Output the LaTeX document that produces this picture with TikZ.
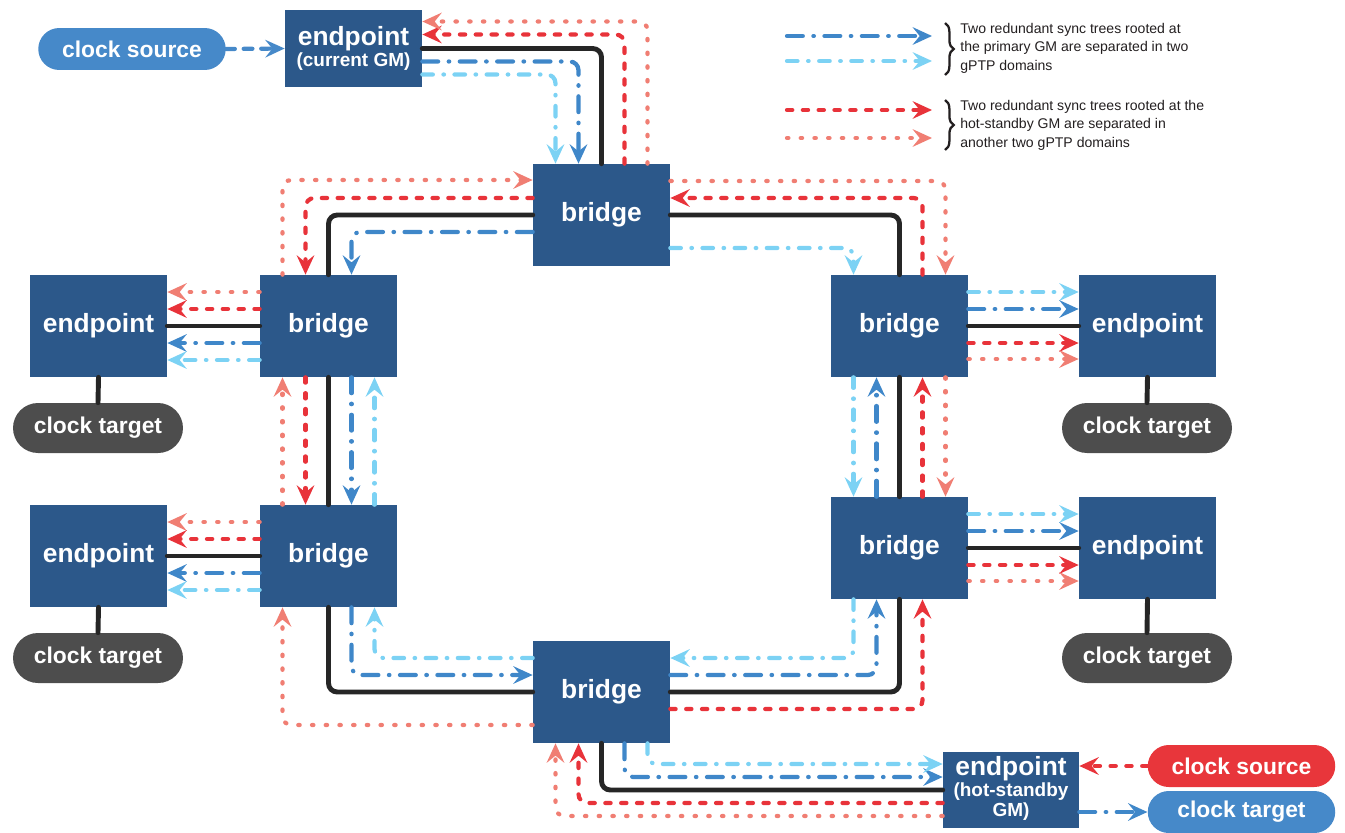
\documentclass[tikz,border=0pt]{standalone}
\usepackage{fontspec}
\setmainfont{Liberation Sans}
\usepackage{xcolor}
\usepackage{tikz}
\usetikzlibrary{arrows.meta,calc,decorations.pathreplacing}
\definecolor{boxblue}{HTML}{2C588A}
\definecolor{pillblue}{HTML}{4689C9}
\definecolor{pillred}{HTML}{E8363B}
\definecolor{pillgray}{HTML}{4D4D4D}
\definecolor{linkblack}{HTML}{262626}
\definecolor{syncA}{HTML}{3F87C9}
\definecolor{syncB}{HTML}{7CD2F4}
\definecolor{syncC}{HTML}{E8333A}
\definecolor{syncD}{HTML}{F07E73}
\definecolor{legtext}{HTML}{231F20}
\newcommand{\subfnt}{\fontsize{10.8}{10.5}\selectfont}
\tikzset{
  netnode/.style = {rectangle, fill=boxblue, text=white, inner sep=0pt,
    align=center, font=\bfseries\fontsize{15}{15}\selectfont,
    minimum width=2.74cm, minimum height=2.04cm},% bridge ou endpoint
  gmnode/.style = {netnode, minimum height=1.54cm},% endpoint qui porte le GM
  clk_t/.style = {rectangle, rounded corners=0.5cm, fill=pillgray, text=white,
    font=\bfseries\fontsize{13}{13}\selectfont, inner sep=0pt,
    minimum width=3.4cm, minimum height=1cm},% clock target
  clk_s/.style = {clk_t, fill=pillblue, rounded corners=0.42cm,
    minimum width=3.75cm, minimum height=0.84cm},% clock source
  link/.style = {draw=linkblack, line width=2.8pt, line cap=round,
    rounded corners=5pt},% lien physique
  sync/.style = {->, line width=2.4pt, line cap=round, rounded corners=5pt},
  sync_a/.style = {sync, draw=syncA,
    dash pattern=on 9pt off 6pt on 0.3pt off 6pt},% GM primaire, domaine 1
  sync_b/.style = {sync, draw=syncB,
    dash pattern=on 6pt off 6pt on 0.3pt off 6pt},% GM primaire, domaine 2
  sync_c/.style = {sync, draw=syncC,
    dash pattern=on 3pt off 6pt},% GM hot-standby, domaine 3
  sync_d/.style = {sync, draw=syncD,
    dash pattern=on 0.8pt off 7pt},% GM hot-standby, domaine 4
  legtxt/.style = {anchor=north west, inner sep=0pt, align=left, text=legtext,
    font=\fontsize{8}{10.5}\selectfont},
  lgbrace/.style = {draw=legtext, line width=1.3pt,
    decorate, decoration={brace, amplitude=5pt}}
}

\begin{document}
\begin{tikzpicture}[x=0.02cm, y=-0.02cm,
  >={Stealth[length=11pt 0 0, width=10pt 0, inset=4pt 0]}]
\useasboundingbox (0,0) rectangle (1345,832);

% noeuds
\node [clk_s] (src) at (132,49) {clock source};
\node [gmnode] (gm) at (353.5,48.5) {endpoint\\[-3pt]\subfnt(current GM)};
\node [netnode] (tb) at (601.5,215) {bridge};
\node [netnode] (lb1) at (328.5,326) {bridge};
\node [netnode] (lb2) at (328.5,556) {bridge};
\node [netnode] (rb1) at (899.5,326) {bridge};
\node [netnode] (rb2) at (899.5,548) {bridge};
\node [netnode] (bb) at (601.5,692) {bridge};
\node [netnode] (le1) at (98.5,326) {endpoint};
\node [netnode] (le2) at (98.5,556) {endpoint};
\node [netnode] (re1) at (1147.5,326) {endpoint};
\node [netnode] (re2) at (1147.5,548) {endpoint};
\node [clk_t] (lc1) at (98,428) {clock target};
\node [clk_t] (lc2) at (98,658) {clock target};
\node [clk_t] (rc1) at (1147,428) {clock target};
\node [clk_t] (rc2) at (1147,658) {clock target};
\node [gmnode, minimum width=2.72cm, minimum height=1.52cm] (hs) at (1011,790)
  {\mbox{}\\[-6pt]endpoint\\[-3pt]\subfnt(hot-standby\\[-4pt]\subfnt GM)};
\node [clk_s, fill=pillred] (rsrc) at (1241.5,766) {clock source};
\node [clk_s] (rtgt) at (1241.5,812) {clock target};

% liens physiques
\draw [link] (gm.east) -| (tb.north);
\draw [link] (tb.west) -| (lb1.north);
\draw [link] (tb.east) -| (rb1.north);
\draw [link] (lb1.south) -- (lb2.north);
\draw [link] (lb2.south) |- (bb.west);
\draw [link] (rb1.south) -- (rb2.north);
\draw [link] (rb2.south) |- (bb.east);
\draw [link] (bb.south) |- (hs.west);
\draw [link] (lb1.west) -- (le1.east);
\draw [link] (lb2.west) -- (le2.east);
\draw [link] (rb1.east) -- (re1.west);
\draw [link] (rb2.east) -- (re2.west);
\draw [link] (le1.south) -- (lc1.north);
\draw [link] (le2.south) -- (lc2.north);
\draw [link] (re1.south) -- (rc1.north);
\draw [link] (re2.south) -- (rc2.north);

% sources et cibles d'horloge
\draw [sync, draw=pillblue, dash pattern=on 5pt off 5pt] (src.east) -- (gm.west);
\draw [sync_c] (rsrc.west) -- (rsrc.west -| hs.east);
\draw [sync_a] (rtgt.west -| hs.east) -- (rtgt.west);

% GM primaire -> bridge du haut
\draw [sync_a] ($(gm.east)+(0,13)$) -| ($(tb.north)+(-23,0)$);
\draw [sync_b] ($(gm.east)+(0,26)$) -| ($(tb.north)+(-46,0)$);
\draw [sync_c] ($(tb.north)+(23,0)$) |- ($(gm.east)+(0,-14)$);
\draw [sync_d] ($(tb.north)+(46,0)$) |- ($(gm.east)+(0,-27)$);

% bridge du haut <-> bridges gauche et droite
\draw [sync_d] ($(lb1.north)+(-46,0)$) |- ($(tb.west)+(0,-35)$);
\draw [sync_c] ($(tb.west)+(0,-17)$) -| ($(lb1.north)+(-23,0)$);
\draw [sync_a] ($(tb.west)+(0,17)$) -| ($(lb1.north)+(23,0)$);
\draw [sync_d] ($(tb.east)+(0,-34)$) -| ($(rb1.north)+(46,0)$);
\draw [sync_c] ($(rb1.north)+(23,0)$) |- ($(tb.east)+(0,-17)$);
\draw [sync_b] ($(tb.east)+(0,33)$) -| ($(rb1.north)+(-46,0)$);

% cote gauche
\draw [sync_d] ($(lb2.north)+(-46,0)$) -- ($(lb1.south)+(-46,0)$);
\draw [sync_c] ($(lb1.south)+(-23,0)$) -- ($(lb2.north)+(-23,0)$);
\draw [sync_a] ($(lb1.south)+(23,0)$) -- ($(lb2.north)+(23,0)$);
\draw [sync_b] ($(lb2.north)+(46,0)$) -- ($(lb1.south)+(46,0)$);
\draw [sync_d] ($(lb1.west)+(0,-34)$) -- ($(le1.east)+(0,-34)$);
\draw [sync_c] ($(lb1.west)+(0,-17)$) -- ($(le1.east)+(0,-17)$);
\draw [sync_a] ($(lb1.west)+(0,17)$) -- ($(le1.east)+(0,17)$);
\draw [sync_b] ($(lb1.west)+(0,34)$) -- ($(le1.east)+(0,34)$);
\draw [sync_d] ($(lb2.west)+(0,-34)$) -- ($(le2.east)+(0,-34)$);
\draw [sync_c] ($(lb2.west)+(0,-17)$) -- ($(le2.east)+(0,-17)$);
\draw [sync_a] ($(lb2.west)+(0,17)$) -- ($(le2.east)+(0,17)$);
\draw [sync_b] ($(lb2.west)+(0,34)$) -- ($(le2.east)+(0,34)$);

% bridge du bas <-> bridges gauche et droite
\draw [sync_d] ($(bb.west)+(0,33)$) -| ($(lb2.south)+(-46,0)$);
\draw [sync_a] ($(lb2.south)+(23,0)$) |- ($(bb.west)+(0,-17)$);
\draw [sync_b] ($(bb.west)+(0,-34)$) -| ($(lb2.south)+(46,0)$);
\draw [sync_b] ($(rb2.south)+(-46,0)$) |- ($(bb.east)+(0,-34)$);
\draw [sync_a] ($(bb.east)+(0,-17)$) -| ($(rb2.south)+(-23,0)$);
\draw [sync_c] ($(bb.east)+(0,17)$) -| ($(rb2.south)+(23,0)$);

% cote droit
\draw [sync_b] ($(rb1.south)+(-46,0)$) -- ($(rb2.north)+(-46,0)$);
\draw [sync_a] ($(rb2.north)+(-23,0)$) -- ($(rb1.south)+(-23,0)$);
\draw [sync_c] ($(rb2.north)+(23,0)$) -- ($(rb1.south)+(23,0)$);
\draw [sync_d] ($(rb1.south)+(46,0)$) -- ($(rb2.north)+(46,0)$);
\draw [sync_b] ($(rb1.east)+(0,-34)$) -- ($(re1.west)+(0,-34)$);
\draw [sync_a] ($(rb1.east)+(0,-17)$) -- ($(re1.west)+(0,-17)$);
\draw [sync_c] ($(rb1.east)+(0,17)$) -- ($(re1.west)+(0,17)$);
\draw [sync_d] ($(rb1.east)+(0,33)$) -- ($(re1.west)+(0,33)$);
\draw [sync_b] ($(rb2.east)+(0,-34)$) -- ($(re2.west)+(0,-34)$);
\draw [sync_a] ($(rb2.east)+(0,-17)$) -- ($(re2.west)+(0,-17)$);
\draw [sync_c] ($(rb2.east)+(0,17)$) -- ($(re2.west)+(0,17)$);
\draw [sync_d] ($(rb2.east)+(0,33)$) -- ($(re2.west)+(0,33)$);

% GM hot-standby <-> bridge du bas
\draw [sync_d] ($(hs.west)+(0,26)$) -| ($(bb.south)+(-46,0)$);
\draw [sync_c] ($(hs.west)+(0,13)$) -| ($(bb.south)+(-23,0)$);
\draw [sync_a] ($(bb.south)+(23,0)$) |- ($(hs.west)+(0,-13)$);
\draw [sync_b] ($(bb.south)+(46,0)$) |- ($(hs.west)+(0,-26)$);

% legende
\coordinate (lgA0) at (787,36);  \coordinate (lgA1) at (932,36);
\coordinate (lgB0) at (787,61);  \coordinate (lgB1) at (932,61);
\coordinate (lgC0) at (787,110); \coordinate (lgC1) at (932,110);
\coordinate (lgD0) at (787,138); \coordinate (lgD1) at (932,138);
\draw [sync_a] (lgA0) -- (lgA1);
\draw [sync_b] (lgB0) -- (lgB1);
\draw [sync_c] (lgC0) -- (lgC1);
\draw [sync_d] (lgD0) -- (lgD1);
\draw [lgbrace] (945,23) -- (945,75);
\draw [lgbrace] (945,100) -- (945,150);
\node [legtxt] (lg1) at (960,23) {Two redundant sync trees rooted at\\
  the primary GM are separated in two\\gPTP domains};
\node [legtxt] (lg2) at (960,100) {Two redundant sync trees rooted at the\\
  hot-standby GM are separated in\\another two gPTP domains};
\end{tikzpicture}
\end{document}
